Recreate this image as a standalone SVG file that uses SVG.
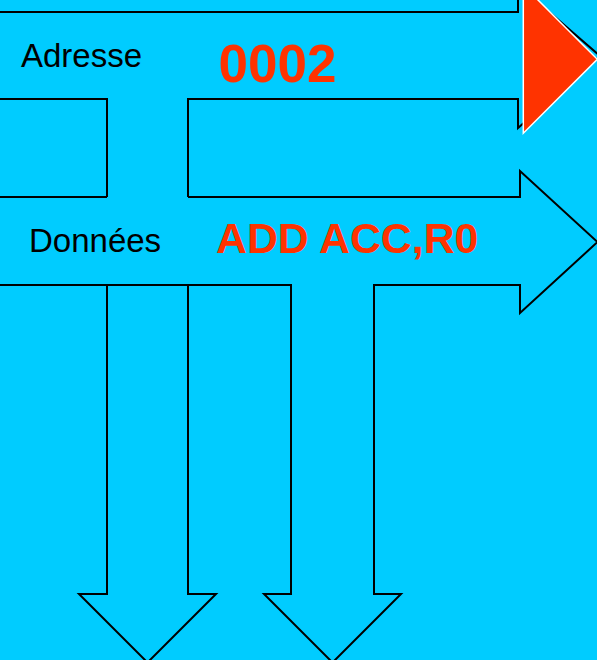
<svg xmlns="http://www.w3.org/2000/svg" width="597" height="660" viewBox="0 0 597 660">
<style>
.bus{fill:none;stroke:#000;stroke-width:2;stroke-linejoin:miter}
.lbl{font-family:"Liberation Sans",Arial,sans-serif;font-size:33px;fill:#000}
.val{font-family:"Liberation Sans",Arial,sans-serif;font-weight:bold;fill:#FF3300}
</style>
<rect x="0" y="0" width="597" height="660" fill="#00CCFF"/>
<g id="address-bus">
<path class="bus" d="M0,12 H518 V-15 L600,56 L518,128 V99 H188 V197"/>
<path class="bus" d="M0,99 H107 V197"/>
<text class="lbl" x="21" y="67">Adresse</text>
<text class="val" x="218.5" y="82" font-size="53">0002</text>
</g>
<g id="address-indicator">
<polygon points="523.3,-14.7 597.3,59.3 523.3,133.3" fill="#FF3300" stroke="#FFFFFF" stroke-width="1.5"/>
</g>
<g id="data-bus">
<path class="bus" d="M0,197 H107"/>
<path class="bus" d="M188,197 H520 V171 L597.5,242 L520,313 V285 H374 V594 H401 L332.5,662.5 L264,594 H291 V285 H0"/>
<text class="lbl" x="29" y="252">Données</text>
<text class="val" x="216" y="252.5" font-size="42.8">ADD ACC,R0</text>
</g>
<g id="connectors">
<path class="bus" d="M107,285 V594 H79 L147.5,662.5 L216,594 H188 V285"/>
</g>
</svg>
